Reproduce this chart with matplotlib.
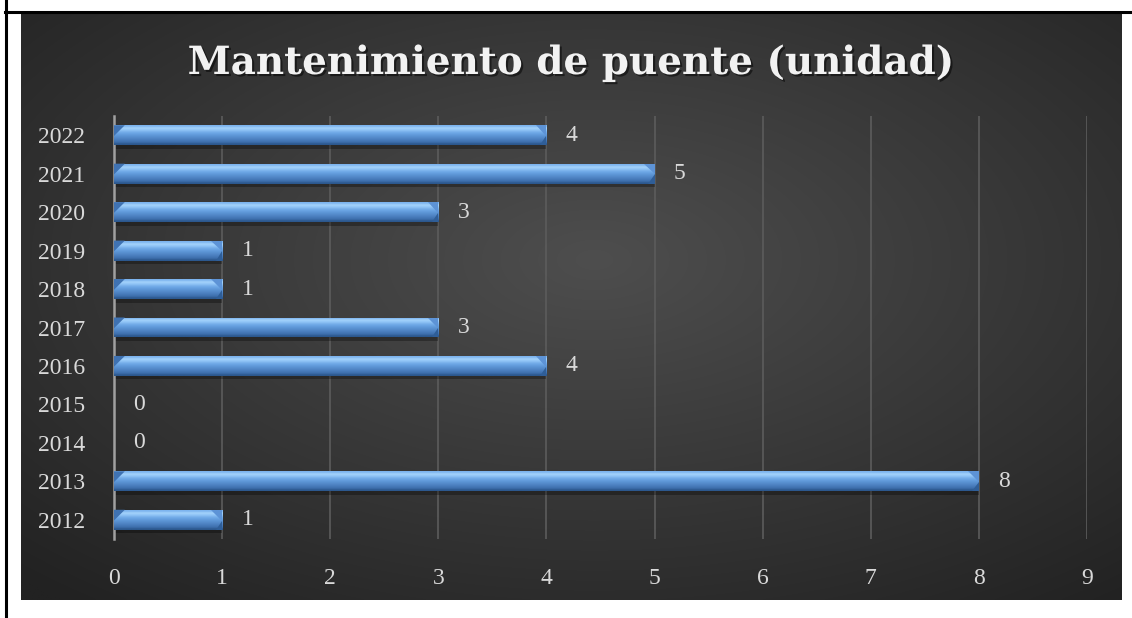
import numpy as np
import matplotlib
matplotlib.use("Agg")
import matplotlib.pyplot as plt
from matplotlib.patches import Rectangle, Polygon
from matplotlib.lines import Line2D
import matplotlib.patheffects as pe

# data
years = ["2012", "2013", "2014", "2015", "2016", "2017",
         "2018", "2019", "2020", "2021", "2022"]
values = [1, 8, 0, 0, 4, 3, 1, 1, 3, 5, 4]
x_ticks = list(range(0, 10))
title = "Mantenimiento de puente (unidad)"

W, H = 1132, 618
fig = plt.figure(figsize=(W / 100, H / 100), dpi=100)
fig.patch.set_facecolor("white")

# dark radial background of the chart area
bg = fig.add_axes([21 / W, (H - 600) / H, (1122 - 21) / W, (600 - 12) / H])
ny, nx = 300, 560
yy, xx = np.mgrid[0:ny, 0:nx]
cx, cy = nx * 0.52, ny * 0.42
r = np.sqrt(((xx - cx) / nx) ** 2 + ((yy - cy) / ny) ** 2)
r = np.clip(r / 0.75, 0, 1)
light = np.array([0x4e, 0x4e, 0x4e]) / 255
dark = np.array([0x22, 0x22, 0x22]) / 255
img = light[None, None, :] * (1 - r[..., None]) + dark[None, None, :] * r[..., None]
bg.imshow(img, aspect="auto", interpolation="bilinear")
bg.set_axis_off()

# table border lines
fig.add_artist(Line2D([5.5 / W, 5.5 / W], [0, 1], color="black", lw=2.2))
fig.add_artist(Line2D([5 / W, 1], [1 - 11.5 / H, 1 - 11.5 / H], color="black", lw=2.2))

# title
fig.text(571 / W, 1 - 63 / H, title, ha="center", va="center",
         color="#f2f2f2", fontsize=28, fontweight="bold",
         family="DejaVu Serif",
         path_effects=[pe.withSimplePatchShadow(offset=(1.5, -1.5),
                                                shadow_rgbFace="black", alpha=0.5)])

ax = fig.add_axes([114 / W, (H - 539) / H, (1087 - 114) / W, (539 - 116) / H])
ax.set_facecolor("none")

for s in ["top", "right", "bottom"]:
    ax.spines[s].set_visible(False)
ax.spines["left"].set_color("#a0a0a0")
ax.spines["left"].set_linewidth(1.8)
ax.set_xticks(x_ticks)
ax.set_yticks(range(len(years)))
ax.set_yticklabels(years)
ax.tick_params(length=0, colors="#d9d9d9", labelsize=17)
ax.tick_params(axis="y", pad=21)
ax.tick_params(axis="x", pad=21)
for lab in ax.get_xticklabels() + ax.get_yticklabels():
    lab.set_family("Liberation Serif")
ax.grid(axis="x", color="#5c5c5c", lw=1.2)
ax.set_axisbelow(True)

# vertical gradient for the bevelled bars (top -> bottom)
grad = np.array([
    [0x7d, 0xb4, 0xee], [0xa3, 0xd2, 0xfb], [0x90, 0xc4, 0xf6],
    [0x76, 0xae, 0xea], [0x66, 0xa0, 0xe0], [0x5b, 0x93, 0xd4],
    [0x52, 0x88, 0xc8], [0x48, 0x7c, 0xbb], [0x3e, 0x70, 0xad],
    [0x2c, 0x58, 0x8e],
]) / 255
grad = grad[:, None, :]

bh = 0.52
bev = 0.1
for i, v in enumerate(values):
    top, bot = i + bh / 2, i - bh / 2
    if v > 0:
        # shadow under the bar
        ax.add_patch(Rectangle((0, bot - 0.09), v, 0.09,
                               color="black", alpha=0.3, lw=0, zorder=2))
        im = ax.imshow(grad, extent=[0, v, bot, top], origin="upper",
                       aspect="auto", interpolation="bilinear", zorder=3)
        rect = Rectangle((0, bot), v, bh, transform=ax.transData)
        im.set_clip_path(rect)
        # bevel ends
        ax.add_patch(Polygon([(0, top), (bev, top), (0, i - 0.02)],
                             closed=True, color="#3f72b2", lw=0, zorder=4))
        ax.add_patch(Polygon([(v - bev, top), (v, top), (v, i - 0.02)],
                             closed=True, color="#5d93d6", lw=0, zorder=4))
        ax.add_patch(Polygon([(v, i - 0.02), (v, bot), (v - bev * 0.6, bot)],
                             closed=True, color="#2f5e98", lw=0, zorder=4))
    ax.annotate(str(v), (v, i), xytext=(14, 0), textcoords="offset points",
                va="center", ha="left", color="#d9d9d9", fontsize=17,
                family="Liberation Serif")

ax.set_xlim(0, 9)
ax.set_ylim(-0.5, len(years) - 0.5)

fig.savefig("out.png", dpi=100)
